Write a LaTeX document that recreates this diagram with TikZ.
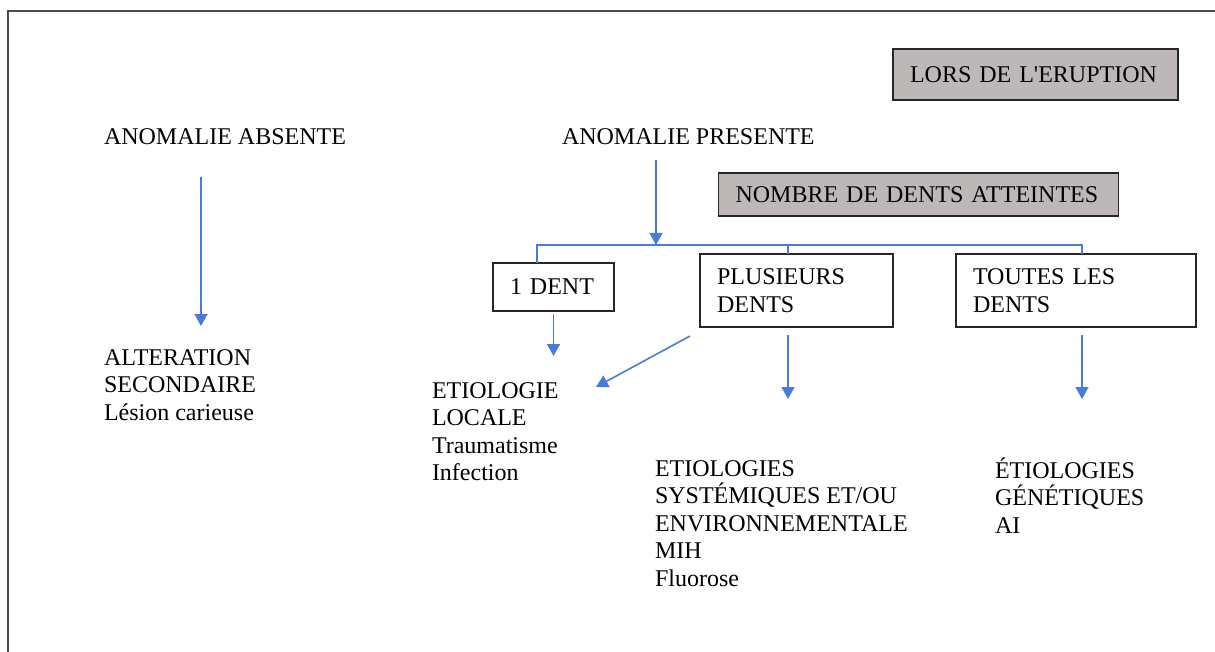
\documentclass[tikz,border=0pt]{standalone}
\usepackage{fontspec}
\setmainfont{Liberation Serif}
\usetikzlibrary{arrows.meta}
\definecolor{bleulien}{RGB}{72,125,215}
\definecolor{grisfond}{RGB}{189,184,183}
\definecolor{cadre}{RGB}{75,75,75}

\begin{document}
\begin{tikzpicture}[x=0.5pt,y=-0.5pt,
  every node/.style={font=\fontsize{12}{13.75}\selectfont, inner sep=0pt, outer sep=0pt},
  texte/.style={anchor=base west, align=left},
  boite/.style={draw=black!85, line width=0.75pt, align=left, inner xsep=8.5pt},
  grise/.style={boite, fill=grisfond},
  lien/.style={draw=bleulien, line width=0.8pt},
  fleche/.style={lien, -{Triangle[length=6pt,width=6.5pt]}}]

\useasboundingbox (0,0) rectangle (1215,652);

% Frame round the page
\draw[cadre, line width=1.2pt] (8,652) -- (8,11) -- (1215,11);

% Grey titles
\node[grise, text width=125.5pt, minimum height=25.5pt] (eruption) at (1035.5,74.5) {LORS DE L\textquotesingle ERUPTION};
\node[grise, text width=183pt, minimum height=21.5pt] (nombre) at (918.5,194.5) {NOMBRE DE DENTS ATTEINTES};

% Top level
\node[texte] (absente) at (104,145) {ANOMALIE ABSENTE};
\node[texte] (presente) at (562,145) {ANOMALIE PRESENTE};

% Boxes
\node[boite, text width=43.5pt, minimum height=24pt] (dent1) at (553.5,287) {1 DENT};
\node[boite, text width=79.5pt, minimum height=36.5pt] (plusieurs) at (796.5,290.5) {PLUSIEURS\\DENTS};
\node[boite, text width=103pt, minimum height=36.5pt] (toutes) at (1076,290.5) {TOUTES LES\\DENTS};

% Results (base = last line)
\node[texte] (alteration) at (104,420) {ALTERATION\\SECONDAIRE\\Lésion carieuse};
\node[texte] (locale) at (432,480.5) {ETIOLOGIE\\LOCALE\\Traumatisme\\Infection};
\node[texte] (systemique) at (655,586) {ETIOLOGIES\\SYSTÉMIQUES ET/OU\\ENVIRONNEMENTALE\\MIH\\Fluorose};
\node[texte] (genetique) at (995,533) {ÉTIOLOGIES\\GÉNÉTIQUES\\AI};

% Arrow ends
\coordinate (a1) at (201,177);
\coordinate (a2) at (201,326);
\coordinate (p1) at (656,160);
\coordinate (b0) at (656,245);
\coordinate (b1) at (537,245);
\coordinate (b2) at (788,245);
\coordinate (b3) at (1082,245);
\coordinate (f1) at (553.5,356);
\coordinate (d1) at (690,336);
\coordinate (d2) at (596,387);
\coordinate (f2) at (788,399);
\coordinate (f3) at (1082,399);

% Connectors
\draw[fleche] (a1) -- (a2);
\draw[fleche] (p1) -- (b0);
\draw[lien] (dent1.north -| b1) -- (b1) -- (b3) -- (toutes.north -| b3);
\draw[lien] (b2) -- (plusieurs.north -| b2);
\draw[fleche] ([yshift=-1.5pt]dent1.south) -- (f1);
\draw[fleche] (d1) -- (d2);
\draw[fleche] ([yshift=-4pt]plusieurs.south -| f2) -- (f2);
\draw[fleche] ([yshift=-4pt]toutes.south -| f3) -- (f3);

\end{tikzpicture}
\end{document}
